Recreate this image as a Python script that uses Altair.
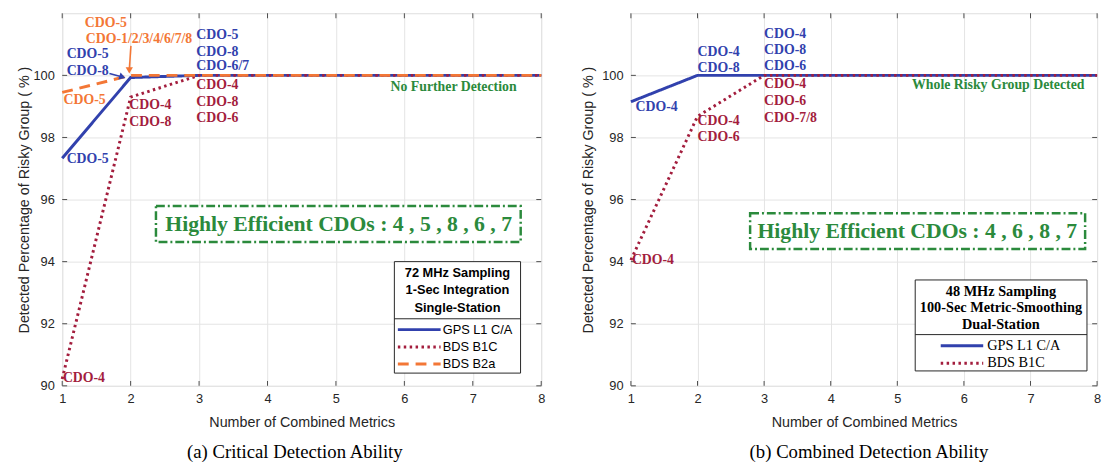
import altair as alt
import pandas as pd

# ---------------- data ----------------
metrics = [1, 2, 3, 4, 5, 6, 7, 8]
a_gps_l1ca = [97.33, 99.93, 100, 100, 100, 100, 100, 100]
a_bds_b1c = [90.22, 99.30, 100, 100, 100, 100, 100, 100]
a_bds_b2a = [99.45, 100, 100, 100, 100, 100, 100, 100]
b_gps_l1ca = [99.15, 100, 100, 100, 100, 100, 100, 100]
b_bds_b1c = [94.05, 98.68, 100, 100, 100, 100, 100, 100]

x_ticks = metrics
y_ticks = [90, 92, 94, 96, 98, 100]
x_domain = [1, 8]
y_domain = [90, 102]

series_names = ["GPS L1 C/A", "BDS B1C", "BDS B2a"]

# annotation labels (panel a)
a_lab_text = ["CDO-5", "CDO-1/2/3/4/6/7/8", "CDO-5", "CDO-8", "CDO-5", "CDO-5",
              "CDO-5", "CDO-8", "CDO-6/7", "CDO-4", "CDO-8", "CDO-6",
              "CDO-4", "CDO-8", "CDO-4"]
a_lab_x = [1.33, 1.345, 1.065, 1.065, 1.02, 1.065,
           2.96, 2.96, 2.96, 2.96, 2.96, 2.96,
           1.98, 1.98, 1.01]
a_lab_y = [101.68, 101.17, 100.68, 100.15, 99.20, 97.29,
           101.29, 100.75, 100.31, 99.69, 99.14, 98.61,
           99.04, 98.51, 90.25]
a_lab_series = ["BDS B2a", "BDS B2a", "GPS L1 C/A", "GPS L1 C/A", "BDS B2a", "GPS L1 C/A",
                "GPS L1 C/A", "GPS L1 C/A", "GPS L1 C/A", "BDS B1C", "BDS B1C", "BDS B1C",
                "BDS B1C", "BDS B1C", "BDS B1C"]

# annotation labels (panel b)
b_lab_text = ["CDO-4", "CDO-4", "CDO-8", "CDO-4", "CDO-8", "CDO-6",
              "CDO-4", "CDO-6", "CDO-7/8", "CDO-4", "CDO-6", "CDO-4"]
b_lab_x = [1.07, 2.0, 2.0, 3.0, 3.0, 3.0, 3.0, 3.0, 3.0, 2.0, 2.0, 1.015]
b_lab_y = [98.98, 100.75, 100.25, 101.34, 100.80, 100.29,
           99.72, 99.17, 98.61, 98.53, 98.0, 94.06]
b_lab_series = ["GPS L1 C/A"] * 6 + ["BDS B1C"] * 6

# green notes
a_note = "No Further Detection"
a_note_xy = (7.64, 99.62)
b_note = "Whole Risky Group Detected"
b_note_xy = (7.81, 99.69)

a_box_text = "Highly Efficient CDOs : 4 , 5 , 8 , 6 , 7"
a_box = dict(x1=2.37, x2=7.70, y1=94.63, y2=95.79, tx=5.04, ty=95.22)
b_box_text = "Highly Efficient CDOs : 4 , 6 , 8 , 7"
b_box = dict(x1=2.79, x2=7.82, y1=94.41, y2=95.56, tx=5.30, ty=94.97)

# legends (drawn in data units)
a_leg_title = ["72 MHz Sampling", "1-Sec Integration", "Single-Station"]
a_leg = dict(x1=5.854, x2=7.698, y1=90.41, y2=94.0, sep=92.16,
             ty=[93.62, 93.07, 92.50], tx=6.776,
             ey=[91.81, 91.25, 90.70], sx1=5.905, sx2=6.53, ex=6.56)
b_leg_title = ["48 MHz Sampling", "100-Sec Metric-Smoothing", "Dual-Station"]
b_leg = dict(x1=5.269, x2=7.848, y1=90.48, y2=93.41, sep=91.65,
             ty=[93.03, 92.50, 91.97], tx=6.556,
             ey=[91.29, 90.73], sx1=5.652, sx2=6.29, ex=6.35)

# arrows (panel a)
a_arrow_orange = ([2.004, 1.98], [100.95, 100.16])
a_arrow_blue = ([1.69, 1.88], [100.06, 99.945])

# ---------------- styles ----------------
BLUE = "#3141ad"
RED = "#a31d3d"
ORANGE = "#f37736"
GREEN = "#2b8a3c"
SANS = "Liberation Sans"
SERIF = "Liberation Serif"
AXC = "#262626"
TICKC = "#4d4d4d"
PLOT_H = 378

series_colors = [BLUE, RED, ORANGE]
series_dash = {"GPS L1 C/A": [1, 0], "BDS B1C": [2.5, 3.5], "BDS B2a": [11, 7]}


def X(field, axis=None):
    return alt.X(field, type="quantitative",
                 scale=alt.Scale(domain=x_domain, nice=False, zero=False), axis=axis)


def Y(field, axis=None):
    return alt.Y(field, type="quantitative",
                 scale=alt.Scale(domain=y_domain, nice=False, zero=False), axis=axis)


def main_x_axis():
    return alt.Axis(orient="bottom", values=x_ticks, grid=True, gridColor="#e4e4e4",
                    ticks=False, domain=False, labelFont=SANS, labelFontSize=13,
                    labelColor=AXC, labelPadding=7, labelFlush=False, format="d",
                    title="Number of Combined Metrics", titleFont=SANS,
                    titleFontSize=14.5, titleFontWeight="normal", titleColor=AXC,
                    titlePadding=10)


def main_y_axis(tpad):
    return alt.Axis(orient="left", values=y_ticks, grid=True, gridColor="#e4e4e4",
                    ticks=False, domain=False, labelFont=SANS, labelFontSize=13,
                    labelColor=AXC, labelPadding=8, format="d",
                    title="Detected Percentage of Risky Group ( % )", titleFont=SANS,
                    titleFontSize=14.5, titleFontWeight="normal", titleColor=AXC,
                    titlePadding=tpad)


def panel(width, ytpad, series_vals, lab_text, lab_x, lab_y, lab_series, note, note_xy,
          box_text, box, leg_title, leg, leg_series, title_text, title_dx,
          leg_font, leg_title_size, leg_entry_size, arrows=None):
    df = pd.DataFrame({"x": metrics})
    for name, vals in series_vals:
        df[name] = vals
    layers = []
    first = series_vals[0][0]
    # axes (labels, grid, titles)
    layers.append(alt.Chart(df).mark_point(size=0, strokeWidth=0, opacity=0).encode(
        x=X("x", main_x_axis()), y=Y(first, main_y_axis(ytpad))))
    # inward MATLAB-style ticks on all four sides
    xt = pd.DataFrame({"v": x_ticks})
    yt = pd.DataFrame({"v": y_ticks})
    for ypos in (2.5, PLOT_H - 2.5):
        layers.append(alt.Chart(xt).mark_tick(
            orient="vertical", size=5, thickness=1, color=TICKC, opacity=1).encode(
            x=X("v"), y=alt.value(ypos)))
    for xpos in (2.5, width - 2.5):
        layers.append(alt.Chart(yt).mark_tick(
            orient="horizontal", size=5, thickness=1, color=TICKC, opacity=1).encode(
            y=Y("v"), x=alt.value(xpos)))
    for name, _ in series_vals:
        col = series_colors[series_names.index(name)]
        layers.append(alt.Chart(df).mark_line(
            color=col, strokeWidth=3, strokeDash=series_dash[name], strokeCap="butt",
            strokeJoin="miter").encode(x=X("x"), y=Y(name)))
    labs = pd.DataFrame({"x": lab_x, "y": lab_y, "text": lab_text, "series": lab_series})
    layers.append(alt.Chart(labs).mark_text(
        font=SERIF, fontWeight="bold", fontSize=14, align="left", baseline="middle").encode(
        x=X("x"), y=Y("y"), text="text:N",
        color=alt.Color("series:N", scale=alt.Scale(domain=series_names, range=series_colors),
                        legend=None)))
    if arrows:
        for (ax, ay), col, shape, ang in arrows:
            adf = pd.DataFrame({"x": ax, "y": ay})
            layers.append(alt.Chart(adf).mark_line(color=col, strokeWidth=1.6).encode(
                x=X("x"), y=Y("y")))
            layers.append(alt.Chart(adf.tail(1)).mark_point(
                shape=shape, filled=True, color=col, size=55, angle=ang, opacity=1).encode(
                x=X("x"), y=Y("y")))
    ndf = pd.DataFrame({"x": [note_xy[0]], "y": [note_xy[1]], "t": [note]})
    layers.append(alt.Chart(ndf).mark_text(
        font=SERIF, fontWeight="bold", fontSize=14, color=GREEN, align="right",
        baseline="middle").encode(x=X("x"), y=Y("y"), text="t:N"))
    bdf = pd.DataFrame({"x1": [box["x1"]], "x2": [box["x2"]], "y1": [box["y1"]],
                        "y2": [box["y2"]], "tx": [box["tx"]], "ty": [box["ty"]],
                        "t": [box_text]})
    layers.append(alt.Chart(bdf).mark_rect(
        fill="white", stroke=GREEN, strokeWidth=2.5, strokeDash=[9, 3, 2, 3]).encode(
        x=X("x1"), x2="x2", y=Y("y1"), y2="y2"))
    layers.append(alt.Chart(bdf).mark_text(
        font=SERIF, fontWeight="bold", fontSize=22, color=GREEN, align="center",
        baseline="middle").encode(x=X("tx"), y=Y("ty"), text="t:N"))
    ldf = pd.DataFrame({"x1": [leg["x1"]], "x2": [leg["x2"]], "y1": [leg["y1"]],
                        "y2": [leg["y2"]], "sep": [leg["sep"]]})
    layers.append(alt.Chart(ldf).mark_rect(
        fill="white", stroke="#262626", strokeWidth=1).encode(
        x=X("x1"), x2="x2", y=Y("y1"), y2="y2"))
    layers.append(alt.Chart(ldf).mark_rule(color="#262626", strokeWidth=1).encode(
        x=X("x1"), x2="x2", y=Y("sep")))
    tdf = pd.DataFrame({"x": [leg["tx"]] * len(leg_title), "y": leg["ty"], "t": leg_title})
    layers.append(alt.Chart(tdf).mark_text(
        font=leg_font, fontWeight="bold", fontSize=leg_title_size, color="black",
        align="center", baseline="middle").encode(x=X("x"), y=Y("y"), text="t:N"))
    for name, ey in zip(leg_series, leg["ey"]):
        col = series_colors[series_names.index(name)]
        sdf = pd.DataFrame({"x1": [leg["sx1"]], "x2": [leg["sx2"]], "y": [ey],
                            "ex": [leg["ex"]], "t": [name]})
        layers.append(alt.Chart(sdf).mark_rule(
            color=col, strokeWidth=3, strokeDash=series_dash[name], strokeCap="butt").encode(
            x=X("x1"), x2="x2", y=Y("y")))
        layers.append(alt.Chart(sdf).mark_text(
            font=leg_font, fontSize=leg_entry_size, color="black", align="left",
            baseline="middle").encode(x=X("ex"), y=Y("y"), text="t:N"))
    ch = alt.layer(*layers).resolve_axis(x="independent", y="independent").properties(
        width=width, height=PLOT_H,
        title=alt.TitleParams(text=title_text, orient="bottom", font=SERIF, fontSize=19,
                              fontWeight="normal", color="black", anchor="middle",
                              frame="group", offset=15, dx=title_dx))
    return ch


left = panel(486, 2,
             [("GPS L1 C/A", a_gps_l1ca), ("BDS B1C", a_bds_b1c), ("BDS B2a", a_bds_b2a)],
             a_lab_text, a_lab_x, a_lab_y, a_lab_series, a_note, a_note_xy,
             a_box_text, a_box, a_leg_title, a_leg, ["GPS L1 C/A", "BDS B1C", "BDS B2a"],
             "(a) Critical Detection Ability", -7, SANS, 13, 13,
             arrows=[(a_arrow_blue, BLUE, "triangle-right", 18),
                     (a_arrow_orange, ORANGE, "triangle-down", 0)])
right = panel(473, 6,
              [("GPS L1 C/A", b_gps_l1ca), ("BDS B1C", b_bds_b1c)],
              b_lab_text, b_lab_x, b_lab_y, b_lab_series, b_note, b_note_xy,
              b_box_text, b_box, b_leg_title, b_leg, ["GPS L1 C/A", "BDS B1C"],
              "(b) Combined Detection Ability", 5, SERIF, 14.5, 14.5)

chart = alt.hconcat(left, right, spacing=32).properties(
    padding={"left": 7, "top": 1, "right": 0, "bottom": 0}
).configure_view(stroke="#7a7a7a", strokeWidth=1).configure(background="white")

chart.save("out.html", embed_options={"renderer": "svg", "actions": False})
